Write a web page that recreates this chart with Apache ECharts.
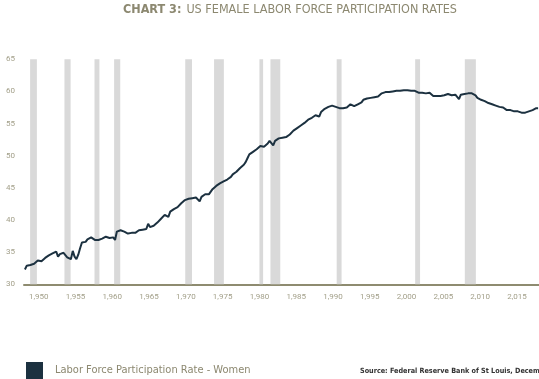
<!DOCTYPE html>
<html>
<head>
<meta charset="utf-8">
<script src="https://cdn.jsdelivr.net/npm/echarts@6/dist/echarts.min.js"></script>
<style>html,body{margin:0;padding:0;background:#fff}#c{width:539px;height:379px}</style>
</head>
<body>
<div id="c"></div>
<script>
// Quarterly female labor force participation rate (%), starting 1948 Q1
var startYear = 1948;
var rateValues = [
  32.3, 32.9, 32.8, 33.0,  // 1948
  32.9, 33.2, 33.4, 33.7,  // 1949
  33.8, 33.6, 33.9, 34.1,  // 1950
  34.3, 34.5, 34.6, 34.8,  // 1951
  34.8, 35.1, 34.3, 34.7,  // 1952
  35.0, 34.9, 34.6, 34.2,  // 1953
  34.4, 33.9, 35.2, 34.3,  // 1954
  33.9, 34.6, 35.6, 36.5,  // 1955
  36.7, 36.6, 37.0, 37.2,  // 1956
  37.3, 37.1, 36.9, 36.8,  // 1957
  36.9, 37.0, 37.1, 37.3,  // 1958
  37.4, 37.2, 37.2, 37.4,  // 1959
  37.3, 36.9, 38.2, 38.1,  // 1960
  38.4, 38.4, 38.2, 37.9,  // 1961
  37.9, 38.0, 38.0, 38.1,  // 1962
  38.0, 38.3, 38.4, 38.2,  // 1963
  38.5, 38.4, 38.6, 39.4,  // 1964
  38.9, 38.9, 39.1, 39.4,  // 1965
  39.6, 39.9, 40.2, 40.3,  // 1966
  40.8, 41.1, 40.5, 41.3,  // 1967
  41.0, 41.7, 41.6, 42.0,  // 1968
  42.3, 42.6, 42.8, 43.1,  // 1969
  43.2, 43.3, 43.3, 43.4,  // 1970
  43.4, 43.5, 43.3, 42.9,  // 1971
  43.6, 43.9, 44.0, 43.9,  // 1972
  44.0, 43.7, 44.8, 45.1,  // 1973
  45.3, 45.5, 45.7, 45.9,  // 1974
  46.0, 46.1, 46.3, 46.4,  // 1975
  46.7, 47.1, 47.3, 47.5,  // 1976
  47.8, 48.1, 48.3, 48.6,  // 1977
  49.0, 49.6, 50.2, 50.5,  // 1978
  50.6, 50.7, 51.0, 51.3,  // 1979
  51.5, 51.5, 51.4, 51.6,  // 1980
  51.9, 52.3, 52.0, 51.6,  // 1981
  52.3, 52.4, 52.7, 52.8,  // 1982
  52.8, 52.9, 52.9, 53.2,  // 1983
  53.3, 53.6, 53.9, 54.0,  // 1984
  54.3, 54.5, 54.7, 54.9,  // 1985
  55.1, 55.3, 55.6, 55.8,  // 1986
  55.9, 56.1, 56.3, 56.4,  // 1987
  56.1, 56.8, 57.1, 57.3,  // 1988
  57.4, 57.6, 57.8, 57.8,  // 1989
  57.7, 57.6, 57.5, 57.4,  // 1990
  57.4, 57.4, 57.3, 57.5,  // 1991
  57.7, 58.0, 58.1, 57.7,  // 1992
  57.9, 58.0, 58.1, 58.3,  // 1993
  58.7, 58.9, 58.9, 59.0,  // 1994
  59.0, 59.0, 59.1, 59.2,  // 1995
  59.2, 59.5, 59.7, 59.8,  // 1996
  59.9, 60.0, 59.9, 60.0,  // 1997
  60.0, 60.1, 60.1, 60.1,  // 1998
  60.1, 60.1, 60.2, 60.1,  // 1999
  60.2, 60.2, 60.1, 59.8,  // 2000
  60.1, 59.8, 59.8, 59.8,  // 2001
  59.8, 59.8, 59.7, 59.8,  // 2002
  59.8, 59.8, 59.3, 59.3,  // 2003
  59.3, 59.3, 59.3, 59.3,  // 2004
  59.4, 59.3, 59.6, 59.4,  // 2005
  59.4, 59.4, 59.5, 59.7,  // 2006
  58.8, 59.5, 59.6, 59.6,  // 2007
  59.6, 59.7, 59.7, 59.7,  // 2008
  59.6, 59.4, 59.0, 58.8,  // 2009
  58.7, 58.6, 58.5, 58.3,  // 2010
  58.2, 58.1, 58.0, 57.9,  // 2011
  57.8, 57.8, 57.6, 57.5,  // 2012
  57.5, 57.3, 57.1, 57.0,  // 2013
  57.1, 57.0, 56.9, 57.0,  // 2014
  56.9, 56.7, 56.7, 56.6,  // 2015
  56.7, 56.9, 56.9, 56.8,  // 2016
  57.1, 57.3, 57.4, 57.4   // 2017
];
// Recession periods (decimal years): start, end
var recessionStarts = [1948.833, 1953.5, 1957.583, 1960.25, 1969.917, 1973.833, 1980.0, 1981.5, 1990.5, 2001.167, 2007.917];
var recessionEnds   = [1949.75, 1954.333, 1958.25, 1961.083, 1970.833, 1975.167, 1980.5, 1982.833, 1991.167, 2001.833, 2009.417];
var tickYears = [1950, 1955, 1960, 1965, 1970, 1975, 1980, 1985, 1990, 1995, 2000, 2005, 2010, 2015];
var yTicks = [30, 35, 40, 45, 50, 55, 60, 65];
var seriesName = 'Labor Force Participation Rate - Women';

var lineData = rateValues.map(function (v, i) { return [startYear + (i + 0.5) / 4, v]; });
var areas = recessionStarts.map(function (s, i) { return [{ xAxis: s }, { xAxis: recessionEnds[i] }]; });

var chart = echarts.init(document.getElementById('c'), null, { renderer: 'canvas' });
var narrow = '"Liberation Sans Narrow", "DejaVu Sans Condensed", "Roboto Condensed", Roboto, sans-serif';
chart.setOption({
  animation: false,
  backgroundColor: '#ffffff',
  title: [{
    text: '{b|CHART 3:} {r|US FEMALE LABOR FORCE PARTICIPATION RATES}',
    left: 123, top: 1, padding: 0,
    textStyle: {
      rich: {
        b: { fontFamily: narrow, fontWeight: 'bold', fontSize: 12.5, color: '#8c8870' },
        r: { fontFamily: narrow, fontWeight: 'normal', fontSize: 12.5, color: '#8c8870' }
      }
    }
  }, {
    text: 'Source: Federal Reserve Bank of St Louis, December 2017',
    left: 360, top: 368, padding: 0,
    textStyle: { fontFamily: narrow, fontWeight: 'bold', fontSize: 7.2, color: '#333333' }
  }],
  legend: {
    left: 26, top: 362, padding: 0,
    icon: 'rect', itemWidth: 17, itemHeight: 17,
    data: [seriesName],
    textStyle: { fontFamily: narrow, fontSize: 11, color: '#8c8870', padding: [0, 0, 0, 7] }
  },
  grid: { left: 24, top: 59.3, width: 520, height: 225 },
  xAxis: {
    type: 'value', min: 1948, max: 2018,
    splitLine: { show: false },
    axisTick: { show: false },
    axisLine: { show: true, lineStyle: { color: '#8e8b70', width: 2 } },
    axisLabel: { customValues: tickYears, color: '#a3a08a', fontSize: 8, margin: 9, fontFamily: 'Roboto, sans-serif' }
  },
  yAxis: {
    type: 'value', min: 30, max: 65, interval: 5,
    splitLine: { show: false },
    axisTick: { show: false },
    axisLine: { show: false },
    axisLabel: { customValues: yTicks, color: '#a3a08a', fontSize: 8, margin: 9, fontFamily: 'Roboto, sans-serif' }
  },
  series: [{
    name: seriesName,
    type: 'line',
    data: lineData,
    showSymbol: false,
    symbol: 'none',
    lineStyle: { color: '#1c3140', width: 2 },
    itemStyle: { color: '#1c3140' },
    z: 3,
    markArea: {
      silent: true,
      itemStyle: { color: '#d9d9d9' },
      data: areas
    }
  }]
});
</script>
</body>
</html>
